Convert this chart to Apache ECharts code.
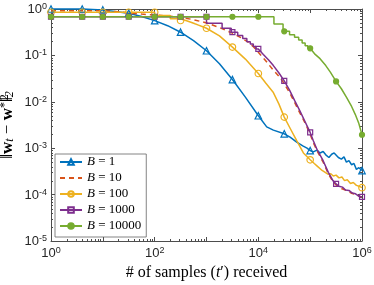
<!DOCTYPE html>
<html><head><meta charset="utf-8">
<script src="https://cdn.jsdelivr.net/npm/echarts@6/dist/echarts.min.js"></script>
<style>html,body{margin:0;padding:0;background:#fff}#c{width:374px;height:285px}</style>
</head><body><div id="c"></div>
<script>
// ---- data ----
const seriesNames = ['B = 1', 'B = 10', 'B = 100', 'B = 1000', 'B = 10000'];
const xExponents = [0, 1, 2, 3, 4, 5, 6];
const yExponents = [-5, -4, -3, -2, -1, 0];

const markAll = [1, 4, 10, 31.6, 100, 316, 1000, 3162, 10000, 31623, 100000, 316228, 1000000];
const markNo55 = [1, 4, 10, 31.6, 100, 316, 1000, 3162, 10000, 31623, 100000, 1000000];

const tB1 = [1,4,10,31.6,56,100,178,316,562,1000,1778,3162,5623,10000,14500,19500,31623,41000,55000,72000,87000,100000,115000,135000,155000,178000,200000,230000,260000,290000,316228,350000,400000,450000,500000,560000,630000,700000,780000,870000,1000000];
const yB1 = [1.0,1.0,0.955,0.813,0.692,0.562,0.437,0.316,0.209,0.126,0.066,0.0302,0.0126,0.0050,0.00288,0.00245,0.00204,0.00174,0.00135,0.00112,0.0010,0.00089,0.00083,0.00091,0.00079,0.00085,0.00072,0.00063,0.00074,0.00079,0.00076,0.00063,0.00058,0.00065,0.00050,0.00054,0.00044,0.00047,0.00035,0.00038,0.00033];

const tB10 = [1,10,20,31.6,56,100,178,316,562,1000,1778,3162,4500,6300,8000,10000,14000,19500,25000,30000,40000,48000,60000,80000,100000,115000,135000,178000,224000,275000,316228,400000,500000,630000,800000,1000000];
const yB10 = [0.92,0.92,0.871,0.822,0.776,0.741,0.708,0.661,0.589,0.501,0.398,0.302,0.245,0.195,0.155,0.1175,0.0759,0.0479,0.0355,0.0269,0.0158,0.0107,0.00646,0.00347,0.0020,0.00132,0.00089,0.0005,0.000282,0.000191,0.000162,0.000135,0.000123,0.000107,0.0000977,0.0000871];

const tB100 = [1,4,10,31.6,100,100,200,200,300,300,316,400,400,500,500,600,600,700,700,800,800,900,900,1000,1778,3162,5623,10000,14000,19500,25000,31623,41000,55000,74000,100000,120000,135000,170000,220000,250000,280000,316228,360000,410000,460000,520000,600000,680000,780000,880000,1000000];
const yB100 = [0.851,0.851,0.851,0.851,0.851,0.72,0.72,0.62,0.62,0.565,0.565,0.565,0.52,0.52,0.48,0.48,0.45,0.45,0.425,0.425,0.405,0.405,0.385,0.385,0.263,0.151,0.0832,0.0407,0.0251,0.0158,0.00891,0.00468,0.00269,0.00145,0.00079,0.000562,0.000468,0.000417,0.000331,0.000275,0.000282,0.000251,0.000263,0.000229,0.00024,0.0002,0.000209,0.000174,0.000182,0.000158,0.000151,0.000141];

const tB1000 = [1,4,10,31.6,100,316,1000,1000,2000,2000,3000,3000,3162,4000,4000,5000,5000,6000,6000,7000,7000,8000,8000,9000,9000,10000,12500,15800,19500,25000,31623,40000,50000,63000,79000,100000,115000,135000,178000,224000,275000,316228,360000,420000,480000,560000,650000,750000,870000,1000000];
const yB1000 = [0.68,0.68,0.68,0.68,0.68,0.68,0.68,0.49,0.49,0.385,0.385,0.316,0.316,0.316,0.27,0.27,0.23,0.23,0.198,0.198,0.175,0.175,0.155,0.155,0.138,0.138,0.105,0.0794,0.0603,0.0417,0.0282,0.0178,0.0107,0.00646,0.0038,0.00219,0.00145,0.00095,0.000537,0.000302,0.0002,0.00017,0.000151,0.000145,0.000126,0.000123,0.000108,0.000104,0.0000925,0.0000891];

const tB10000 = [1,4,10,31.6,100,316,1000,3162,10000,20000,20000,30000,30000,31623,40000,40000,50000,50000,60000,60000,70000,70000,80000,80000,90000,90000,100000,125000,155000,200000,245000,316228,400000,500000,630000,740000,870000,1000000];
const yB10000 = [0.68,0.68,0.68,0.68,0.68,0.68,0.68,0.68,0.68,0.68,0.473,0.473,0.33,0.33,0.33,0.28,0.28,0.245,0.245,0.215,0.215,0.185,0.185,0.162,0.162,0.142,0.142,0.105,0.0851,0.0603,0.0437,0.0275,0.0191,0.0126,0.00794,0.00537,0.00339,0.00195];

// ---- helpers ----
const X_MIN = 1, X_MAX = 1e6, Y_MIN = 1e-5, Y_MAX = 1;
const AX = '#4d4d4d';
function build(T, Y, marks) {
  const used = new Set();
  return T.map((t, i) => {
    const m = marks && marks.includes(t) && !used.has(t);
    if (m) used.add(t);
    return m ? { value: [t, Y[i]] } : { value: [t, Y[i]], symbol: 'none' };
  });
}
const minorX = [], minorY = [];
for (let k = 0; k < 6; k++) for (let m = 2; m <= 9; m++) minorX.push(m * Math.pow(10, k));
for (let k = -5; k < 0; k++) for (let m = 2; m <= 9; m++) minorY.push(m * Math.pow(10, k));

const tickRich = {
  b: { fontFamily: 'Liberation Sans', fontSize: 13, lineHeight: 14, verticalAlign: 'bottom', color: '#262626' },
  s: { fontFamily: 'Liberation Sans', fontSize: 9, lineHeight: 10, padding: [0, 0, 7, 0], verticalAlign: 'top', color: '#262626' }
};
function expOf(v) { return Math.round(Math.log10(v)); }

function lineSeries(name, T, Y, color, symbol, size, marks, fill, dashed) {
  return {
    name, type: 'line', data: build(T, Y, marks), xAxisIndex: 0, yAxisIndex: 0,
    symbol: symbol, symbolSize: size, showSymbol: true, showAllSymbol: true, clip: false,
    color: color,
    lineStyle: { color: color, width: 1.5, type: dashed ? [5, 4] : 'solid' },
    itemStyle: { color: fill, borderColor: color, borderWidth: 1.2 },
    emphasis: { disabled: true }, animation: false
  };
}

const chart = echarts.init(document.getElementById('c'));
chart.setOption({
  animation: false,
  grid: { left: 51, right: 12, top: 9, bottom: 44, containLabel: false, outerBoundsMode: 'none' },
  legend: {
    data: [
      { name: seriesNames[0] },
      { name: seriesNames[1], itemStyle: { opacity: 0 } },
      { name: seriesNames[2] },
      { name: seriesNames[3] },
      { name: seriesNames[4] }
    ],
    orient: 'vertical', left: 55, top: 154,
    itemWidth: 22, itemHeight: 7, itemGap: 2,
    padding: [1, 5, 4, 4],
    borderColor: '#666', borderWidth: 0.8, backgroundColor: '#fff',
    formatter: n => '{i|B} = ' + n.split('= ')[1],
    textStyle: { fontFamily: 'Liberation Serif', fontSize: 13, color: '#000', lineHeight: 14,
      rich: { i: { fontFamily: 'Liberation Serif', fontStyle: 'italic', fontSize: 13, color: '#000' } } }
  },
  xAxis: [{
    type: 'log', logBase: 10, min: X_MIN, max: X_MAX, position: 'bottom', splitNumber: 6,
    axisLine: { show: true, onZero: false, lineStyle: { color: AX, width: 1 } },
    axisTick: { show: true, inside: true, length: 4, lineStyle: { color: AX } },
    splitLine: { show: false },
    axisLabel: { margin: 5, formatter: v => { const e = expOf(v); return e % 2 === 0 ? '{b|10}{s|' + e + '}' : ''; }, rich: tickRich },
    name: '# of samples ({it|t}′) received', nameLocation: 'middle', nameGap: 24, nameMoveOverlap: false,
    nameTextStyle: { fontFamily: 'Liberation Serif', fontSize: 16, color: '#000',
      rich: { it: { fontFamily: 'Liberation Serif', fontStyle: 'italic', fontSize: 16, color: '#000' } } }
  }, {
    type: 'log', logBase: 10, min: X_MIN, max: X_MAX, position: 'top', splitNumber: 6,
    axisLine: { show: true, onZero: false, lineStyle: { color: AX, width: 1 } },
    axisTick: { show: true, inside: true, length: 4, lineStyle: { color: AX } },
    axisLabel: { show: false }, splitLine: { show: false }
  }],
  yAxis: [{
    type: 'log', logBase: 10, min: Y_MIN, max: Y_MAX, position: 'left', splitNumber: 5,
    axisLine: { show: true, onZero: false, lineStyle: { color: AX, width: 1 } },
    axisTick: { show: true, inside: true, length: 4, lineStyle: { color: AX } },
    splitLine: { show: false },
    axisLabel: { margin: 4, formatter: v => '{b|10}{s|' + expOf(v) + '}', rich: tickRich },
    name: '‖{w|w}{sb|t} − {w|w}{sp|*}‖{sp0|2}{sb|2}', nameLocation: 'middle', nameGap: 35, nameMoveOverlap: false,
    nameTextStyle: { fontFamily: 'Liberation Serif', fontSize: 17, color: '#000',
      rich: {
        w: { fontFamily: 'Liberation Serif', fontWeight: 'bold', fontSize: 17, color: '#000' },
        sb: { fontFamily: 'Liberation Serif', fontStyle: 'italic', fontSize: 12, lineHeight: 12, padding: [7, 0, 0, 0], verticalAlign: 'bottom', color: '#000' },
        sp: { fontFamily: 'Liberation Serif', fontSize: 12, lineHeight: 12, padding: [0, 0, 7, 0], verticalAlign: 'top', color: '#000' },
        sp0: { fontFamily: 'Liberation Serif', fontSize: 12, lineHeight: 12, padding: [0, 0, 7, 0], verticalAlign: 'top', width: 0, color: '#000' }
      } }
  }, {
    type: 'log', logBase: 10, min: Y_MIN, max: Y_MAX, position: 'right', splitNumber: 5,
    axisLine: { show: true, onZero: false, lineStyle: { color: AX, width: 1 } },
    axisTick: { show: true, inside: true, length: 4, lineStyle: { color: AX } },
    axisLabel: { show: false }, splitLine: { show: false }
  }],
  series: [
    {
      type: 'custom', silent: true, xAxisIndex: 0, yAxisIndex: 0, z: 1,
      data: minorX.map(v => [v, Y_MAX]),
      renderItem: (p, api) => {
        const v = api.value(0);
        const b = api.coord([v, Y_MIN]), t = api.coord([v, Y_MAX]);
        const x = Math.round(b[0]) + 0.5;
        return { type: 'group', children: [
          { type: 'line', shape: { x1: x, y1: b[1], x2: x, y2: b[1] - 2 }, style: { stroke: AX, lineWidth: 1 } },
          { type: 'line', shape: { x1: x, y1: t[1], x2: x, y2: t[1] + 2 }, style: { stroke: AX, lineWidth: 1 } }
        ] };
      }
    },
    {
      type: 'custom', silent: true, xAxisIndex: 0, yAxisIndex: 0, z: 1,
      data: minorY.map(v => [X_MIN, v]),
      renderItem: (p, api) => {
        const v = api.value(1);
        const l = api.coord([X_MIN, v]), r = api.coord([X_MAX, v]);
        const y = Math.round(l[1]) + 0.5;
        return { type: 'group', children: [
          { type: 'line', shape: { x1: l[0], y1: y, x2: l[0] + 2, y2: y }, style: { stroke: AX, lineWidth: 1 } },
          { type: 'line', shape: { x1: r[0], y1: y, x2: r[0] - 2, y2: y }, style: { stroke: AX, lineWidth: 1 } }
        ] };
      }
    },
    lineSeries(seriesNames[0], tB1, yB1, '#0072BD', 'triangle', 6.5, markNo55, 'rgba(255,255,255,0)', false),
    lineSeries(seriesNames[1], tB10, yB10, '#D95319', 'none', 0, null, '#D95319', true),
    lineSeries(seriesNames[2], tB100, yB100, '#EDB120', 'circle', 6.5, markNo55, 'rgba(255,255,255,0)', false),
    lineSeries(seriesNames[3], tB1000, yB1000, '#7E2F8E', 'rect', 5, markAll, 'rgba(255,255,255,0)', false),
    lineSeries(seriesNames[4], tB10000, yB10000, '#77AC30', 'circle', 5, markAll, '#77AC30', false)
  ]
});
</script>
</body></html>
